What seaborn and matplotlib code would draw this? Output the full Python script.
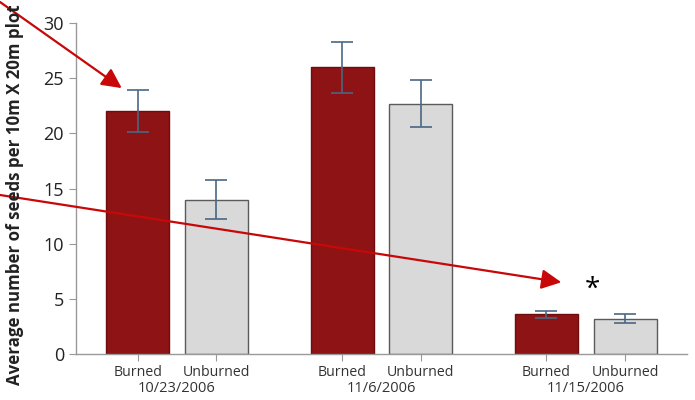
import numpy as np
import pandas as pd
import matplotlib
matplotlib.use("Agg")
import matplotlib.pyplot as plt
import seaborn as sns

# Chart data
dates = ["10/23/2006", "11/6/2006", "11/15/2006"]
treatments = ["Burned", "Unburned"]
burned_mean = [22.0, 26.0, 3.6]
unburned_mean = [14.0, 22.7, 3.2]
burned_err = [1.9, 2.3, 0.3]
unburned_err = [1.8, 2.1, 0.4]

df = pd.DataFrame({
    "date": dates * 2,
    "treatment": ["Burned"] * 3 + ["Unburned"] * 3,
    "seeds": burned_mean + unburned_mean,
    "err": burned_err + unburned_err,
})

sns.set_style("white")
plt.rcParams["font.family"] = ["Open Sans", "DejaVu Sans"]

fig = plt.figure(figsize=(6.95, 4), dpi=100)
ax = fig.add_axes([0.109, 0.115, 0.8795, 0.8275])

bar_colors = {"Burned": "#8e1314", "Unburned": "#d9d9d9"}
sns.barplot(data=df, x="date", y="seeds", hue="treatment", order=dates,
            hue_order=treatments, palette=bar_colors, saturation=1,
            width=0.77, gap=0.2, legend=False, ax=ax)

edge = {"Burned": "#6e0d0e", "Unburned": "#5a5a5a"}
for patch, trt, err in zip(ax.patches, df["treatment"], df["err"]):
    patch.set_edgecolor(edge[trt])
    patch.set_linewidth(1.0)
    cx = patch.get_x() + patch.get_width() / 2
    ax.errorbar(cx, patch.get_height(), yerr=err, color="#4a6784",
                capsize=8, elinewidth=1.2, capthick=1.2, fmt="none", zorder=5)

# Bar-level ticks and labels
centers = sorted(p.get_x() + p.get_width() / 2 for p in ax.patches)
ax.set_xticks(centers)
ax.set_xticklabels(treatments * len(dates), fontsize=10.2, color="#333333")
for i, d in enumerate(dates):
    ax.text(i, -0.105, d, transform=ax.get_xaxis_transform(), ha="center",
            va="center", fontsize=10.5, color="#333333")

ax.set_xlim(-0.495, 2.495)
ax.set_ylim(0, 30)
ax.set_yticks([0, 5, 10, 15, 20, 25, 30])
ax.tick_params(axis="y", labelsize=13, labelcolor="#222222", length=5,
               color="#999999", direction="out", left=True)
ax.tick_params(axis="x", length=5, color="#999999", direction="out",
               bottom=True, pad=3)
ax.set_xlabel("")
ax.set_ylabel("")
sns.despine(ax=ax)
for s in ["left", "bottom"]:
    ax.spines[s].set_color("#999999")
    ax.spines[s].set_linewidth(1.0)

fig.text(0.022, 0.5125, "Average number of seeds per 10m X 20m plot",
         rotation=90, ha="center", va="center", fontsize=12.2,
         fontweight="bold", color="#222222")

# significance marker
ax.text(2.03, 5.8, "*", ha="center", va="center", fontsize=20, color="black")

# red annotation arrows
arrow = dict(arrowstyle="-|>", color="#c80808", lw=1.6, mutation_scale=30,
             shrinkA=0, shrinkB=0)
ax.annotate("", xy=(-0.27, 24.1), xycoords="data", xytext=(0, 398),
            textcoords="figure pixels", arrowprops=arrow, annotation_clip=False)
ax.annotate("", xy=(1.88, 6.5), xycoords="data", xytext=(0, 205),
            textcoords="figure pixels", arrowprops=arrow, annotation_clip=False)

fig.savefig("out.png", dpi=100)
